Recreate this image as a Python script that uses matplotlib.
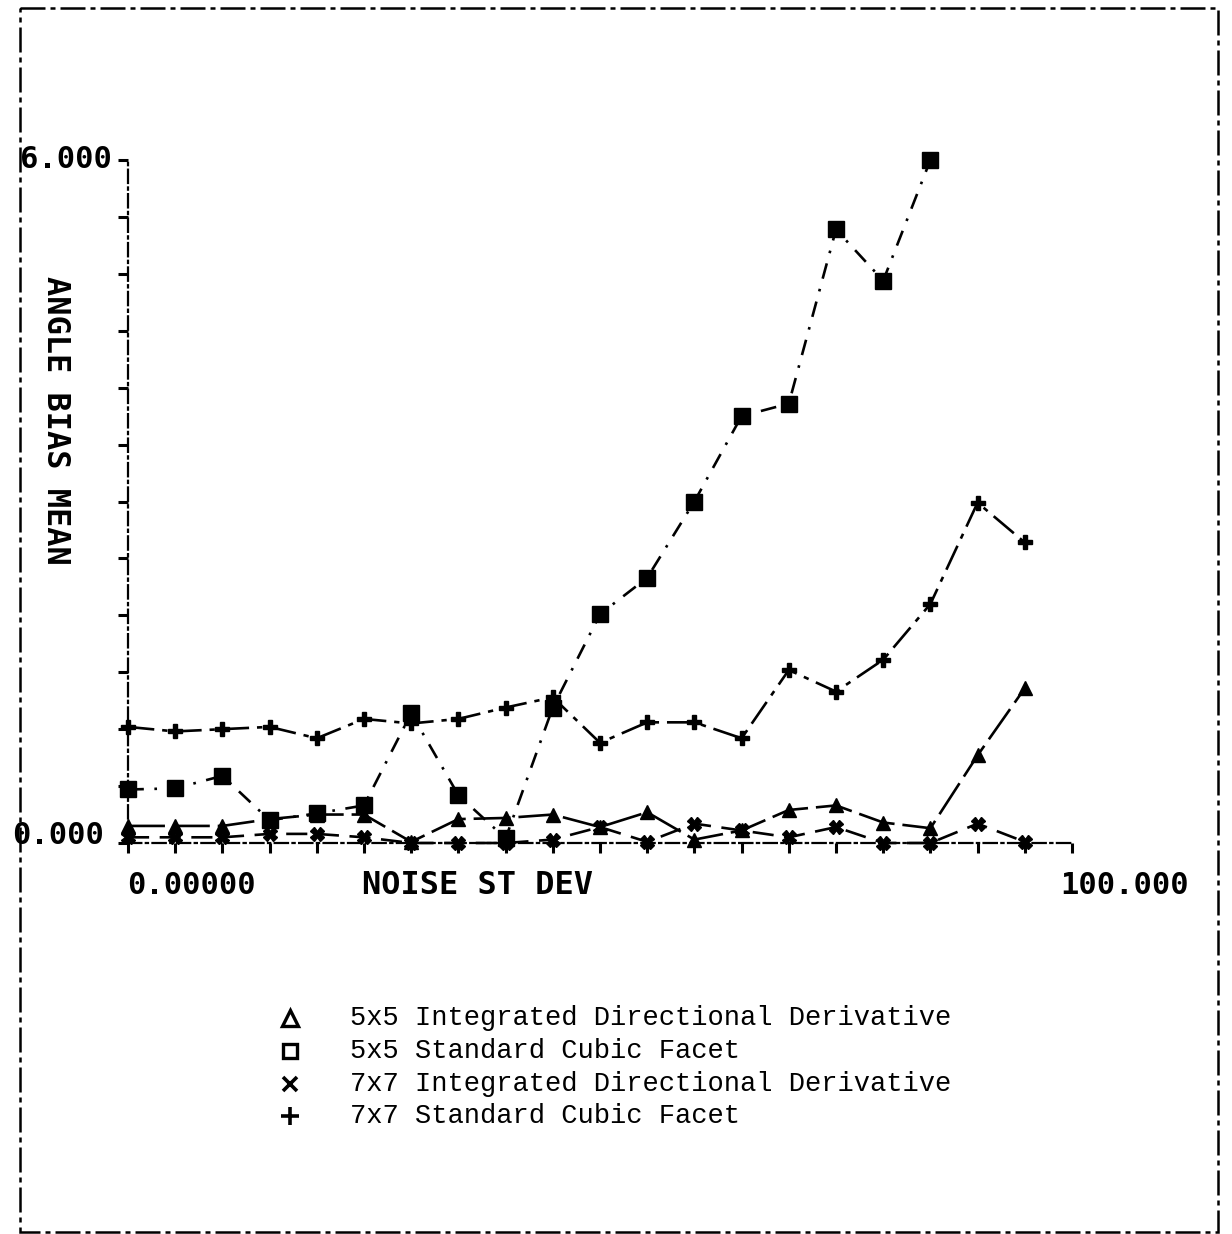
import matplotlib
matplotlib.use("Agg")
from matplotlib import pyplot as plt
from matplotlib.patches import Rectangle
import numpy as np

# noise standard deviation, one run every 5 units
noise = np.arange(0, 100, 5)

idd5 = [0.15, 0.15, 0.15, 0.21, 0.25, 0.25, 0.01, 0.21, 0.22, 0.25,
        0.14, 0.27, 0.03, 0.11, 0.29, 0.33, 0.18, 0.13, 0.77, 1.36]
scf5 = [0.47, 0.48, 0.59, 0.20, 0.26, 0.33, 1.14, 0.42, 0.04, 1.19,
        2.01, 2.33, 3.00, 3.75, 3.86, 5.39, 4.94, 6.00]
idd7 = [0.05, 0.05, 0.05, 0.08, 0.08, 0.05, 0.00, 0.00, 0.00, 0.03,
        0.14, 0.01, 0.17, 0.11, 0.05, 0.14, 0.00, 0.00, 0.17, 0.01]
scf7 = [1.02, 0.98, 1.00, 1.02, 0.92, 1.09, 1.05, 1.09, 1.19, 1.28,
        0.88, 1.06, 1.06, 0.92, 1.52, 1.33, 1.61, 2.10, 2.99, 2.64]

legend_labels = ["5x5 Integrated Directional Derivative",
                 "5x5 Standard Cubic Facet",
                 "7x7 Integrated Directional Derivative",
                 "7x7 Standard Cubic Facet"]

W, H = 1232, 1234
fig = plt.figure(figsize=(W / 100, H / 100), dpi=100)
fig.patch.set_facecolor("white")

def fx(px):
    return px / W

def fy(py):
    return 1 - py / H

# plot area: x 0..100 spans px 128..1072, y 0..6 spans px 843..160
ax = fig.add_axes([fx(128), fy(843), fx(1072) - fx(128), fy(160) - fy(843)])
ax.set_xlim(0, 100)
ax.set_ylim(0, 6)
ax.patch.set_alpha(0)

lw = 1.9
ax.plot(noise[:len(scf7)], scf7, color="black", lw=lw, ls=(0, (10, 3, 2, 3)),
        marker="P", ms=10, clip_on=False, zorder=3)
ax.plot(noise[:len(scf5)], scf5, color="black", lw=lw, ls=(0, (6, 4, 1, 4)),
        marker="s", ms=11, clip_on=False, zorder=3)
ax.plot(noise[:len(idd5)], idd5, color="black", lw=lw, ls=(0, (14, 3)),
        marker="^", ms=10, clip_on=False, zorder=3)
ax.plot(noise[:len(idd7)], idd7, color="black", lw=lw, ls=(0, (8, 4)),
        marker="X", ms=10, clip_on=False, zorder=3)

for side in ["top", "right"]:
    ax.spines[side].set_visible(False)
for side in ["left", "bottom"]:
    ax.spines[side].set_linestyle((0, (6, 2, 1, 2)))
    ax.spines[side].set_linewidth(1.6)
ax.set_xticks(np.arange(0, 101, 5))
ax.set_yticks(np.arange(0, 6.01, 0.5))
ax.tick_params(axis="both", direction="out", length=7, width=2.2,
               labelbottom=False, labelleft=False)

# axis annotations in plotter lettering
axfont = dict(family="DejaVu Sans Mono", weight="bold", color="black")
fig.text(fx(20), fy(160), "6.000", ha="left", va="center", fontsize=22, **axfont)
fig.text(fx(12), fy(836), "0.000", ha="left", va="center", fontsize=22, **axfont)
fig.text(fx(127), fy(885), "0.00000", ha="left", va="center", fontsize=22, **axfont)
fig.text(fx(1060), fy(885), "100.000", ha="left", va="center", fontsize=22, **axfont)
fig.text(fx(362), fy(885), "NOISE ST DEV", ha="left", va="center", fontsize=23, **axfont)
fig.text(fx(55), fy(420), "ANGLE BIAS MEAN", ha="center", va="center",
         rotation=-90, fontsize=23, **axfont)

# legend block under the plot
lax = fig.add_axes([0, 0, 1, 1])
lax.set_xlim(0, W)
lax.set_ylim(H, 0)
lax.axis("off")
rows = [1018, 1051, 1084, 1116]
symbols = [dict(marker="^", mfc="none", ms=11, mew=2.4),
           dict(marker="s", mfc="none", ms=10, mew=2.4),
           dict(marker="x", ms=10, mew=2.6),
           dict(marker="+", ms=13, mew=2.6)]
for yy, sym, lab in zip(rows, symbols, legend_labels):
    lax.plot([290], [yy], color="black", ls="none", **sym)
    lax.text(350, yy, lab, ha="left", va="center", fontsize=19.5,
             family="Liberation Mono", color="black")

# dashed frame round the sheet
lax.add_patch(Rectangle((20, 8), 1198, 1224, fill=False, ec="black",
                        lw=1.8, ls=(0, (10, 2, 2, 2))))

fig.savefig("out.png", dpi=100, facecolor="white")
